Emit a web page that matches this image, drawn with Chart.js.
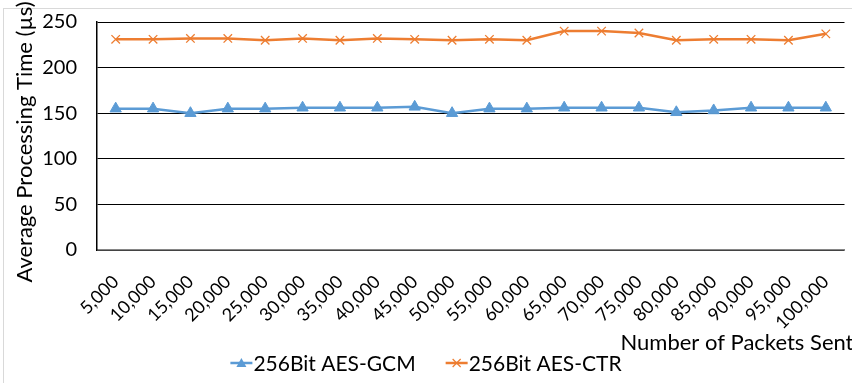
<!DOCTYPE html>
<html>
<head>
<meta charset="utf-8">
<script src="https://cdn.jsdelivr.net/npm/chart.js@4"></script>
<style>
  html, body { margin: 0; padding: 0; background: #fff; }
  #wrap { width: 852px; height: 383px; position: relative; }
</style>
</head>
<body>
<div id="wrap"><canvas id="timeChart"></canvas></div>
<script>
// packets sent (x categories)
var packetLabels = ['5,000', '10,000', '15,000', '20,000', '25,000', '30,000', '35,000', '40,000', '45,000', '50,000',
    '55,000', '60,000', '65,000', '70,000', '75,000', '80,000', '85,000', '90,000', '95,000', '100,000'];
// average processing time in microseconds
var gcmTimes = [155, 155, 150, 155, 155, 156, 156, 156, 157, 150, 155, 155, 156, 156, 156, 151, 153, 156, 156, 156];
var ctrTimes = [231, 231, 232, 232, 230, 232, 230, 232, 231, 230, 231, 230, 240, 240, 238, 230, 231, 231, 230, 237];
var yTicks = [0, 50, 100, 150, 200, 250];
var xTitle = 'Number of Packets Sent';
var yTitle = 'Average Processing Time (µs)';

var fontFamily = 'Lato, Carlito, "Open Sans", sans-serif';

// light frame around the whole chart
var framePlugin = {
    id: 'frame',
    beforeDraw: function (chart) {
        var ctx = chart.ctx;
        ctx.save();
        ctx.strokeStyle = '#d9d9d9';
        ctx.lineWidth = 1;
        ctx.strokeRect(3.5, 8.5, 900, 400);
        ctx.restore();
    }
};

// axis titles placed by hand: x runs past the right edge, y sits a bit low
var titlesPlugin = {
    id: 'axisTitles',
    afterDraw: function (chart) {
        var ctx = chart.ctx;
        var sx = chart.scales.x;
        var area = chart.chartArea;
        ctx.save();
        ctx.font = '22px ' + fontFamily;
        ctx.fillStyle = '#000';
        ctx.textAlign = 'right';
        ctx.textBaseline = 'middle';
        ctx.fillText(xTitle, sx.right + 9, sx.bottom - 11);

        ctx.translate(25, (area.top + area.bottom) / 2 + 6);
        ctx.rotate(-Math.PI / 2);
        ctx.textAlign = 'center';
        ctx.fillText(yTitle, 0, 0);
        ctx.restore();
    }
};

// legend drawn as line + marker, like the office chart
var legendPlugin = {
    id: 'lineLegend',
    afterDraw: function (chart) {
        var ctx = chart.ctx;
        var sets = chart.data.datasets;
        var font = '21px ' + fontFamily;
        var iconW = 22, iconGap = 1, itemGap = 30;
        ctx.save();
        ctx.font = font;
        var widths = sets.map(function (ds) { return ctx.measureText(ds.label).width; });
        var total = 0;
        widths.forEach(function (w, i) { total += iconW + iconGap + w + (i > 0 ? itemGap : 0); });
        var x = (chart.width - total) / 2;
        var y = 363;
        sets.forEach(function (ds, i) {
            ctx.strokeStyle = ds.borderColor;
            ctx.fillStyle = ds.borderColor;
            ctx.lineWidth = 2.5;
            ctx.beginPath(); ctx.moveTo(x, y); ctx.lineTo(x + iconW, y); ctx.stroke();
            var cx = x + iconW / 2;
            if (ds.pointStyle === 'triangle') {
                ctx.beginPath(); ctx.moveTo(cx, y - 5); ctx.lineTo(cx + 5, y + 4); ctx.lineTo(cx - 5, y + 4); ctx.closePath(); ctx.fill();
            } else {
                ctx.lineWidth = 1.2;
                ctx.beginPath();
                ctx.moveTo(cx - 4, y - 4); ctx.lineTo(cx + 4, y + 4);
                ctx.moveTo(cx + 4, y - 4); ctx.lineTo(cx - 4, y + 4);
                ctx.stroke();
            }
            ctx.fillStyle = '#000';
            ctx.textBaseline = 'middle';
            ctx.textAlign = 'left';
            ctx.fillText(ds.label, x + iconW + iconGap, y + 1);
            x += iconW + iconGap + widths[i] + itemGap;
        });
        ctx.restore();
    }
};

var ctx = document.getElementById('timeChart').getContext('2d');
var timeChart = new Chart(ctx, {
    type: 'line',
    data: {
        labels: packetLabels,
        datasets: [{
            label: '256Bit AES-GCM',
            data: gcmTimes,
            borderColor: '#5B9BD5',
            backgroundColor: '#5B9BD5',
            borderWidth: 2.5,
            pointStyle: 'triangle',
            pointRadius: 6.5,
            pointBorderWidth: 1,
            tension: 0,
            fill: false
        }, {
            label: '256Bit AES-CTR',
            data: ctrTimes,
            borderColor: '#ED7D31',
            backgroundColor: '#ED7D31',
            borderWidth: 2.5,
            pointStyle: 'crossRot',
            pointRadius: 6,
            pointBorderWidth: 1.3,
            tension: 0,
            fill: false
        }]
    },
    options: {
        responsive: true,
        maintainAspectRatio: false,
        animation: false,
        layout: { padding: { left: 8, top: 22, right: 5, bottom: 29 } },
        plugins: {
            tooltip: { enabled: false },
            legend: { display: false }
        },
        scales: {
            x: {
                offset: true,
                grid: { display: false, drawTicks: false },
                border: { color: '#868686', width: 1.5 },
                ticks: {
                    font: { family: fontFamily, size: 18 },
                    color: '#000',
                    minRotation: 45,
                    maxRotation: 45,
                    autoSkip: false,
                    padding: 21
                },
                title: { display: false },
                afterFit: function (scale) {
                    scale.height = 104;
                    scale.paddingLeft = 0;
                    scale.paddingRight = 0;
                }
            },
            y: {
                min: 0,
                max: 250,
                afterBuildTicks: function (scale) {
                    scale.ticks = yTicks.map(function (v) { return { value: v }; });
                },
                grid: { color: '#000', lineWidth: 1, drawTicks: false },
                border: { color: '#000', width: 1.5 },
                ticks: {
                    font: { family: fontFamily, size: 20 },
                    color: '#000',
                    padding: 20
                },
                title: { display: false },
                afterFit: function (scale) {
                    scale.width = 89;
                    scale.paddingTop = 0;
                    scale.paddingBottom = 0;
                }
            }
        }
    },
    plugins: [framePlugin, titlesPlugin, legendPlugin]
});
</script>
</body>
</html>
